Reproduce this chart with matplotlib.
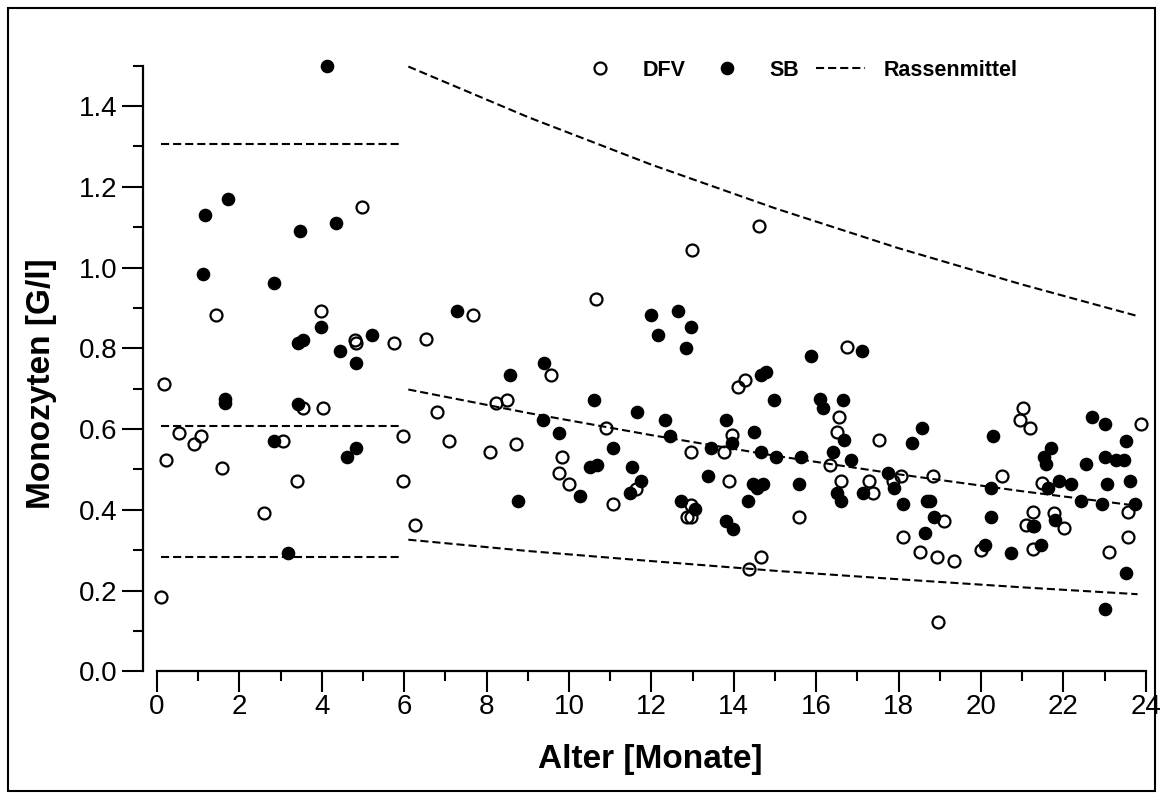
import matplotlib
matplotlib.use("Agg")
import matplotlib.pyplot as plt
from matplotlib.patches import Rectangle
from matplotlib.ticker import MultipleLocator, FormatStrFormatter

plt.rcParams['font.family'] = ['Liberation Sans', 'DejaVu Sans']

# Monozyten je Tier: Alter [Monate] und Wert [G/l]
dfv_age = [4.98, 1.43, 3.97, 4.81, 4.83, 5.76, 6.54, 0.17, 3.54, 4.02, 0.54, 0.91,
           1.06, 0.21, 1.57, 3.05, 5.98, 3.39, 5.98, 2.60, 6.27, 0.09, 12.99, 10.66,
           7.66, 9.57, 8.22, 8.49, 6.80, 10.89, 7.08, 8.09, 8.71, 12.95, 9.84, 11.63,
           9.76, 10.00, 11.08, 12.95, 12.87, 12.97, 14.61, 16.74, 14.27, 14.11, 16.56,
           16.51, 17.53, 13.96, 13.76, 16.33, 16.60, 17.27, 17.39, 17.87, 18.07, 18.11,
           18.53, 13.88, 15.59, 14.65, 14.38, 21.03, 20.95, 21.19, 23.88, 18.84, 20.52,
           21.49, 23.58, 19.09, 18.92, 19.35, 18.96, 20.00, 21.25, 21.09, 21.76, 22.02,
           21.25, 23.11, 23.58]
dfv_mono = [1.151, 0.883, 0.893, 0.821, 0.812, 0.814, 0.822, 0.712, 0.651, 0.652, 0.591,
            0.563, 0.583, 0.524, 0.504, 0.571, 0.583, 0.472, 0.472, 0.393, 0.362, 0.183,
            1.044, 0.922, 0.883, 0.734, 0.664, 0.672, 0.643, 0.603, 0.571, 0.544, 0.563,
            0.544, 0.532, 0.452, 0.492, 0.464, 0.414, 0.412, 0.381, 0.381, 1.103, 0.803,
            0.722, 0.703, 0.631, 0.592, 0.573, 0.585, 0.543, 0.511, 0.472, 0.472, 0.442,
            0.472, 0.484, 0.333, 0.295, 0.472, 0.381, 0.282, 0.254, 0.653, 0.622, 0.602,
            0.612, 0.485, 0.485, 0.466, 0.394, 0.373, 0.282, 0.274, 0.123, 0.300, 0.394,
            0.362, 0.393, 0.354, 0.302, 0.295, 0.333]

sb_age = [4.13, 1.17, 1.72, 3.47, 4.35, 1.11, 2.84, 3.97, 3.43, 3.55, 5.22, 4.44, 4.82,
          1.65, 1.66, 3.43, 2.84, 4.83, 4.60, 3.19, 7.27, 11.98, 12.64, 12.95, 12.17,
          12.83, 9.39, 8.56, 10.61, 11.66, 12.33, 9.38, 12.45, 9.76, 11.08, 10.51, 10.67,
          11.54, 11.74, 11.48, 10.27, 8.75, 12.72, 13.06, 17.10, 15.87, 14.65, 14.78,
          14.98, 16.09, 16.17, 16.64, 16.67, 18.56, 18.32, 13.80, 14.50, 13.95, 13.45,
          14.65, 15.02, 15.62, 16.40, 16.84, 16.50, 16.60, 17.14, 17.74, 17.89, 18.11,
          18.64, 18.68, 13.38, 14.47, 14.56, 14.70, 14.35, 15.59, 13.80, 13.99, 20.28,
          22.70, 23.01, 23.51, 21.69, 21.53, 21.57, 22.54, 23.01, 23.28, 23.47, 20.24,
          21.62, 21.89, 22.18, 23.05, 23.61, 22.43, 22.94, 23.74, 18.75, 18.86, 20.24,
          20.10, 20.72, 21.25, 21.29, 21.80, 21.46, 23.51, 23.01]
sb_mono = [1.500, 1.130, 1.170, 1.091, 1.110, 0.983, 0.963, 0.854, 0.814, 0.821, 0.833,
           0.793, 0.763, 0.665, 0.675, 0.662, 0.571, 0.552, 0.532, 0.294, 0.892, 0.883,
           0.892, 0.853, 0.833, 0.802, 0.763, 0.734, 0.672, 0.643, 0.622, 0.622, 0.583,
           0.591, 0.552, 0.505, 0.511, 0.505, 0.472, 0.442, 0.433, 0.423, 0.423, 0.402,
           0.793, 0.782, 0.734, 0.742, 0.672, 0.674, 0.651, 0.672, 0.573, 0.603, 0.565,
           0.622, 0.592, 0.565, 0.552, 0.543, 0.532, 0.532, 0.543, 0.523, 0.442, 0.423,
           0.442, 0.492, 0.453, 0.414, 0.342, 0.423, 0.485, 0.464, 0.453, 0.464, 0.423,
           0.464, 0.373, 0.353, 0.583, 0.631, 0.612, 0.571, 0.552, 0.532, 0.513, 0.513,
           0.532, 0.523, 0.523, 0.453, 0.453, 0.472, 0.464, 0.464, 0.472, 0.423, 0.414,
           0.414, 0.423, 0.381, 0.381, 0.313, 0.294, 0.361, 0.361, 0.375, 0.313, 0.243,
           0.154]

# Rassenmittel mit Streubereich: bis 6 Monate konstant, danach abnehmend
early_age = [0.1, 5.95]
early_upper = [1.305, 1.305]
early_mean = [0.608, 0.608]
early_lower = [0.283, 0.283]

late_age = [6.1, 9.0, 12.0, 15.0, 18.0, 21.0, 23.8]
late_upper = [1.498, 1.373, 1.255, 1.147, 1.048, 0.958, 0.880]
late_mean = [0.698, 0.640, 0.585, 0.534, 0.488, 0.446, 0.410]
late_lower = [0.326, 0.298, 0.273, 0.249, 0.228, 0.208, 0.191]

W, H = 1163, 800
fig = plt.figure(figsize=(W / 100, H / 100), dpi=100)

x0_px, x_unit = 157.0, 41.2
y0_px, y_unit = 671.3, 403.7
xlim = (-0.34, 24.1)
ylim = (0.0, 1.52)
left = (x0_px + xlim[0] * x_unit) / W
width = (xlim[1] - xlim[0]) * x_unit / W
bottom = (H - y0_px) / H
height = (ylim[1] - ylim[0]) * y_unit / H
ax = fig.add_axes([left, bottom, width, height])
ax.set_xlim(*xlim)
ax.set_ylim(*ylim)

ref_style = dict(color='black', lw=1.5, linestyle=(0, (3.9, 1.9)), zorder=2)
h_ref, = ax.plot(early_age, early_upper, **ref_style)
for ys in (early_mean, early_lower):
    ax.plot(early_age, ys, **ref_style)
for ys in (late_upper, late_mean, late_lower):
    ax.plot(late_age, ys, **ref_style)

h_dfv, = ax.plot(dfv_age, dfv_mono, linestyle='none', marker='o', ms=8.6,
                 mfc='none', mec='black', mew=1.6, clip_on=False, zorder=3)
h_sb, = ax.plot(sb_age, sb_mono, linestyle='none', marker='o', ms=8.8,
                mfc='black', mec='black', mew=1.0, clip_on=False, zorder=3)

for side in ('top', 'right'):
    ax.spines[side].set_visible(False)
ax.spines['left'].set_bounds(0.0, 1.5)
ax.spines['bottom'].set_bounds(0, 24)
for side in ('left', 'bottom'):
    ax.spines[side].set_linewidth(1.6)

ax.xaxis.set_major_locator(MultipleLocator(2))
ax.xaxis.set_minor_locator(MultipleLocator(1))
ax.yaxis.set_major_locator(MultipleLocator(0.2))
ax.yaxis.set_minor_locator(MultipleLocator(0.1))
ax.yaxis.set_major_formatter(FormatStrFormatter('%.1f'))
ax.tick_params(which='major', direction='out', length=15, width=1.5, labelsize=20)
ax.tick_params(which='minor', direction='out', length=7.5, width=1.5)
ax.tick_params(axis='x', which='major', pad=1)
ax.tick_params(axis='y', which='major', pad=3.5)

ax.set_xlabel('Alter [Monate]', fontsize=24, fontweight='bold')
ax.set_ylabel('Monozyten [G/l]', fontsize=24, fontweight='bold')
ax.xaxis.set_label_coords((650 - left * W) / (width * W), (y0_px - 744) / (height * H))
ax.yaxis.set_label_coords((57 - left * W) / (width * W), (y0_px - 384) / (height * H))

ax.legend([h_dfv, h_sb, h_ref], ['DFV', 'SB', 'Rassenmittel'], ncol=3, frameon=False,
          loc='center left', bbox_to_anchor=(575 / W, 1 - 70 / H),
          bbox_transform=fig.transFigure, borderpad=0, borderaxespad=0,
          handlelength=2.3, handletextpad=0.85, columnspacing=0.75, numpoints=1,
          prop=dict(family=['Liberation Sans', 'DejaVu Sans'], weight='bold', size=15.5))

# Rahmen um die gesamte Grafik
fig.patches.append(Rectangle((8 / W, 9 / H), 1147 / W, 783 / H, transform=fig.transFigure,
                             fill=False, edgecolor='black', linewidth=1.5))

fig.savefig('out.png', dpi=100, facecolor='white')
